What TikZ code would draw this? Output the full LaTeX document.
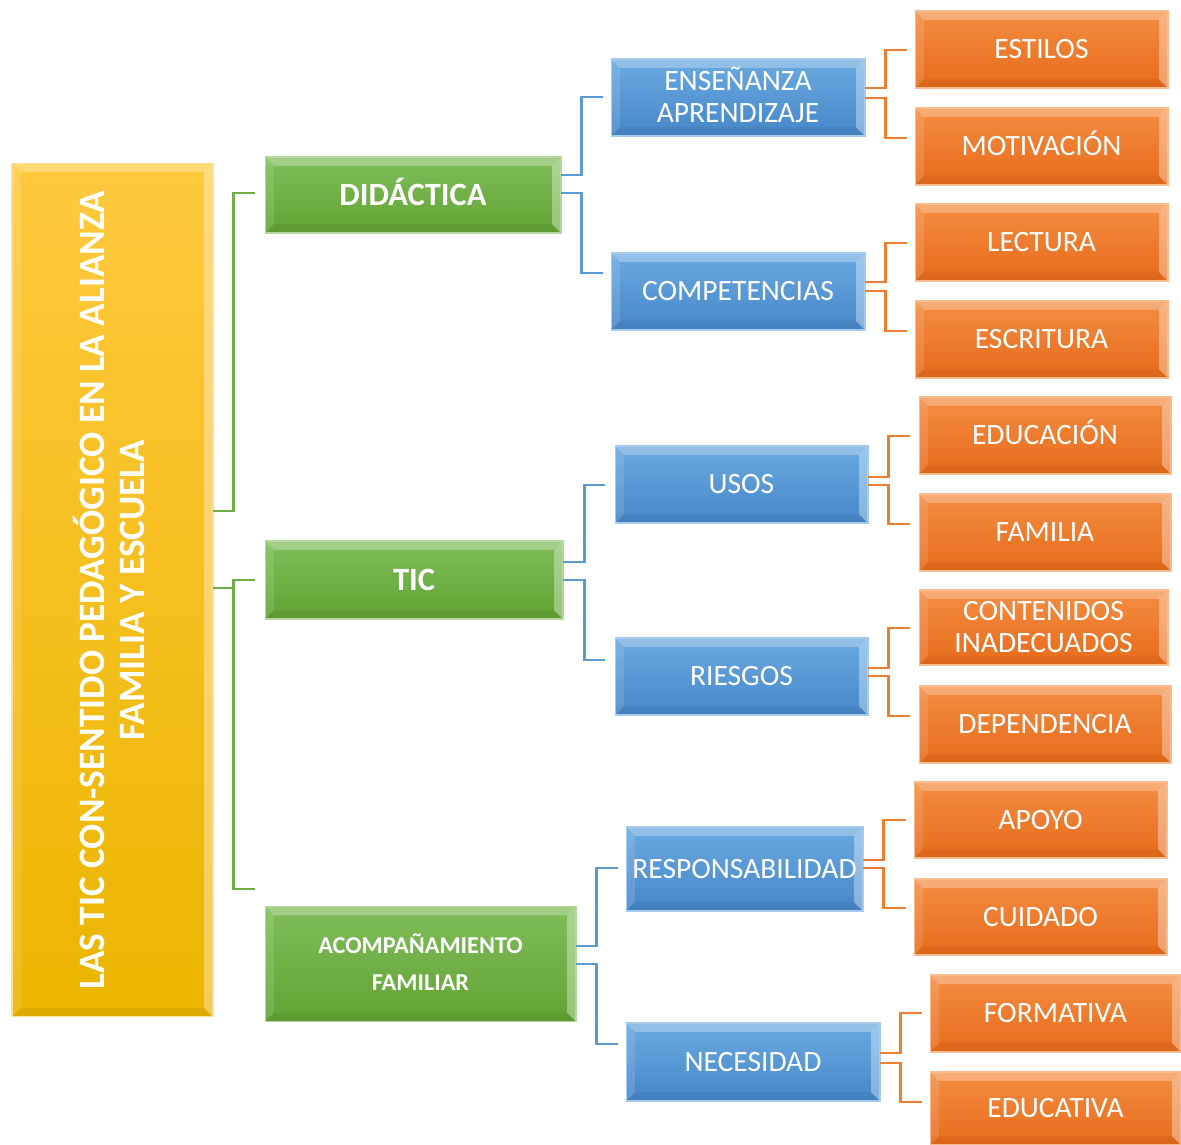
\documentclass[tikz,border=0pt]{standalone}
\usepackage{fontspec}
\setmainfont{Carlito}
\usetikzlibrary{positioning}

\definecolor{rootA}{HTML}{FFC93F}
\definecolor{rootB}{HTML}{EBB500}
\definecolor{greenA}{HTML}{80BD5A}
\definecolor{greenB}{HTML}{62A333}
\definecolor{blueA}{HTML}{6AA9E1}
\definecolor{blueB}{HTML}{4687C8}
\definecolor{orangeA}{HTML}{F48D42}
\definecolor{orangeB}{HTML}{E76B1B}
\definecolor{gline}{HTML}{70AD47}
\definecolor{bline}{HTML}{5B9BD5}
\definecolor{oline}{HTML}{ED7D31}

\tikzset{
  bevel/.style={path picture={
    \fill[white, opacity=0.28] (path picture bounding box.north west) -- (path picture bounding box.north east)
      -- ([shift={(-5pt,-5pt)}]path picture bounding box.north east) -- ([shift={(5pt,-5pt)}]path picture bounding box.north west) -- cycle;
    \fill[white, opacity=0.12] (path picture bounding box.north west) -- ([shift={(5pt,-5pt)}]path picture bounding box.north west)
      -- ([shift={(5pt,5pt)}]path picture bounding box.south west) -- (path picture bounding box.south west) -- cycle;
    \fill[white, opacity=0.35] (path picture bounding box.north east) -- ([shift={(-5pt,-5pt)}]path picture bounding box.north east)
      -- ([shift={(-5pt,5pt)}]path picture bounding box.south east) -- (path picture bounding box.south east) -- cycle;
    \fill[black, opacity=0.05] (path picture bounding box.south west) -- ([shift={(5pt,5pt)}]path picture bounding box.south west)
      -- ([shift={(-5pt,5pt)}]path picture bounding box.south east) -- (path picture bounding box.south east) -- cycle;
  }},
  box/.style={rectangle, bevel, line width=0.6pt, inner sep=0pt, outer sep=0pt, text=white, align=center},
  rootbox/.style={box, minimum width=4.02cm, minimum height=17.08cm, top color=rootA, bottom color=rootB, draw=rootA!60!white},
  roottext/.style={rotate=90, text=white, align=center, font=\bfseries\fontsize{21.2}{22.7}\selectfont,
    text height=36.1pt, text depth=0pt},
  greenbox/.style={box, minimum width=5.92cm, minimum height=1.52cm, top color=greenA, bottom color=greenB,
    draw=greenA!60!white, font=\bfseries\fontsize{18.5}{22}\selectfont, text height=11.7pt, text depth=0pt},
  bluebox/.style={box, minimum width=5.08cm, minimum height=1.54cm, top color=blueA, bottom color=blueB,
    draw=blueA!60!white, font=\fontsize{16.8}{18.1}\selectfont, text height=10.6pt, text depth=0pt},
  orangebox/.style={box, minimum width=5.06cm, minimum height=1.54cm, top color=orangeA, bottom color=orangeB,
    draw=orangeA!60!white, font=\fontsize{16.8}{18.1}\selectfont, text height=10.6pt, text depth=0pt},
  twolines/.style={text height=28.7pt, text depth=0pt},
  link/.style={line width=1.7pt, draw=#1},
}

\begin{document}
\begin{tikzpicture}[x=0.02cm, y=-0.02cm]
  \useasboundingbox (0,0) rectangle (1181,1145);

  \node (root) [rootbox] at (112.5, 590) {};
  \node (roottitle) [roottext] at (root.center) {LAS TIC CON-SENTIDO PEDAGÓGICO EN LA ALIANZA\\FAMILIA Y ESCUELA};

  \node (did) [greenbox] at (413, 195) {DIDÁCTICA};
  \node (tic) [greenbox, minimum width=5.96cm, minimum height=1.56cm] at (414, 580) {TIC};
  \node (acomp) [greenbox, minimum width=6.22cm, minimum height=2.3cm, font=\bfseries\fontsize{13.8}{21}\selectfont,
    text height=29.7pt, text depth=0pt] at (420.5, 964) {ACOMPAÑAMIENTO\\FAMILIAR};

  \node (ens) [bluebox, twolines] at (738, 97.5) {ENSEÑANZA\\APRENDIZAJE};
  \node (comp) [bluebox] at (738, 291.5) {COMPETENCIAS};
  \node (usos) [bluebox, minimum width=5.06cm] at (741.5, 484.5) {USOS};
  \node (ries) [bluebox, minimum width=5.06cm] at (741.5, 676.5) {RIESGOS};
  \node (resp) [bluebox, minimum width=4.74cm, minimum height=1.68cm] at (744.5, 869) {RESPONSABILIDAD};
  \node (nec) [bluebox, minimum height=1.56cm] at (753, 1062) {NECESIDAD};

  \node (estilos) [orangebox] at (1041.5, 49.5) {ESTILOS};
  \node (motiv) [orangebox] at (1041.5, 146.5) {MOTIVACIÓN};
  \node (lect) [orangebox] at (1041.5, 242.5) {LECTURA};
  \node (escr) [orangebox] at (1041.5, 339.5) {ESCRITURA};
  \node (educ) [orangebox, minimum width=5.04cm] at (1045, 435.5) {EDUCACIÓN};
  \node (fam) [orangebox, minimum width=5.04cm] at (1045, 532.5) {FAMILIA};
  \node (cont) [orangebox, twolines, minimum width=4.98cm, minimum height=1.5cm] at (1043.5, 627.5) {CONTENIDOS\\INADECUADOS};
  \node (dep) [orangebox, minimum width=5.04cm] at (1045, 724.5) {DEPENDENCIA};
  \node (apoyo) [orangebox, minimum height=1.52cm] at (1040.5, 820) {APOYO};
  \node (cuid) [orangebox, minimum height=1.52cm] at (1040.5, 917) {CUIDADO};
  \node (form) [orangebox, minimum width=5.02cm] at (1055.5, 1013.5) {FORMATIVA};
  \node (educa) [orangebox, minimum width=5.02cm, minimum height=1.46cm] at (1055.5, 1108.5) {EDUCATIVA};

  \coordinate (didin) at (255, 193);
  \coordinate (ticin) at (255, 580);
  \coordinate (acompin) at (255, 889);
  \draw[link=gline] (root.east |- 0,511) -- ++(21,0) |- (didin);
  \draw[link=gline] (root.east |- 0,588) -- ++(21,0) |- (ticin);
  \draw[link=gline] (root.east |- 0,588) -- ++(21,0) |- (acompin);

  \coordinate (ensin) at (603, 97);
  \coordinate (compin) at (603, 273);
  \coordinate (usosin) at (605, 485);
  \coordinate (riesin) at (605, 660);
  \coordinate (respin) at (618, 868);
  \coordinate (necin) at (618, 1044);
  \draw[link=bline] (did.east |- 0,175) -- ++(21,0) |- (ensin);
  \draw[link=bline] (did.east |- 0,193) -- ++(21,0) |- (compin);
  \draw[link=bline] (tic.east |- 0,562) -- ++(22,0) |- (usosin);
  \draw[link=bline] (tic.east |- 0,580) -- ++(22,0) |- (riesin);
  \draw[link=bline] (acomp.east |- 0,946) -- ++(21,0) |- (respin);
  \draw[link=bline] (acomp.east |- 0,964) -- ++(21,0) |- (necin);

  \coordinate (estin) at (907, 50);
  \coordinate (motin) at (907, 138);
  \coordinate (lectin) at (907, 243);
  \coordinate (escrin) at (907, 331);
  \coordinate (educin) at (910, 436);
  \coordinate (famin) at (910, 524);
  \coordinate (contin) at (910, 628);
  \coordinate (depin) at (910, 716);
  \coordinate (apoyoin) at (906, 820);
  \coordinate (cuidin) at (906, 908);
  \coordinate (formin) at (922, 1013);
  \coordinate (educain) at (922, 1102);
  \draw[link=oline] (ens.east |- 0,88) -- ++(21,0) |- (estin);
  \draw[link=oline] (ens.east |- 0,98) -- ++(21,0) |- (motin);
  \draw[link=oline] (comp.east |- 0,282) -- ++(21,0) |- (lectin);
  \draw[link=oline] (comp.east |- 0,291) -- ++(21,0) |- (escrin);
  \draw[link=oline] (usos.east |- 0,477) -- ++(21,0) |- (educin);
  \draw[link=oline] (usos.east |- 0,485) -- ++(21,0) |- (famin);
  \draw[link=oline] (ries.east |- 0,668) -- ++(21,0) |- (contin);
  \draw[link=oline] (ries.east |- 0,676) -- ++(21,0) |- (depin);
  \draw[link=oline] (resp.east |- 0,860) -- ++(21,0) |- (apoyoin);
  \draw[link=oline] (resp.east |- 0,868) -- ++(21,0) |- (cuidin);
  \draw[link=oline] (nec.east |- 0,1053) -- ++(21,0) |- (formin);
  \draw[link=oline] (nec.east |- 0,1063) -- ++(21,0) |- (educain);
\end{tikzpicture}
\end{document}
